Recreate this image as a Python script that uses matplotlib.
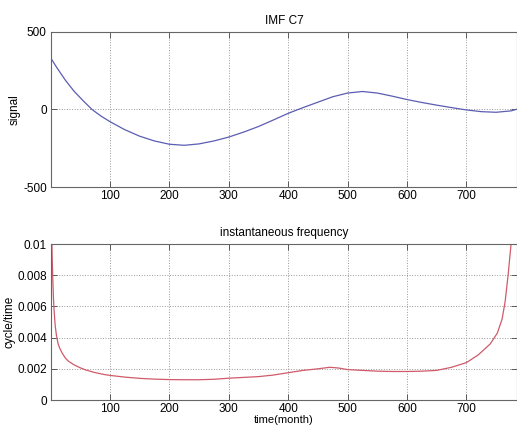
import numpy as np
import matplotlib.pyplot as plt

plt.rcParams['font.family'] = ['Liberation Sans', 'DejaVu Sans']
plt.rcParams['axes.unicode_minus'] = False

# IMF C7 component (month index vs amplitude)
imf_t = [1, 10, 25, 40, 55, 70, 85, 100, 125, 150, 175, 200, 225, 250, 275,
         300, 325, 350, 375, 400, 425, 450, 475, 500, 525, 550, 575, 600, 625,
         650, 675, 700, 725, 750, 775, 785]
imf_val = [330, 275, 190, 117, 57, 0, -42, -78, -130, -172, -203, -224, -231,
           -222, -203, -178, -146, -110, -68, -25, 12, 47, 82, 106, 116, 106,
           86, 64, 45, 28, 12, -3, -14, -18, -9, 2]

# instantaneous frequency of the same component
freq_t = [1, 2, 3, 4, 5, 6, 8, 10, 13, 16, 20, 25, 30, 40, 50, 60, 75, 90,
          100, 125, 150, 175, 200, 225, 250, 275, 300, 325, 350, 375, 400, 425,
          450, 470, 485, 500, 525, 550, 575, 600, 625, 650, 675, 700, 720, 740,
          752, 760, 765, 770, 775, 780]
freq_val = [0.0125, 0.011, 0.0092, 0.0078, 0.0067, 0.0059, 0.0048, 0.0042,
            0.0036, 0.0033, 0.003, 0.0027, 0.0025, 0.00225, 0.00207, 0.00192,
            0.00176, 0.00164, 0.00158, 0.00147, 0.00139, 0.00134, 0.00131,
            0.0013, 0.0013, 0.00133, 0.0014, 0.00145, 0.0015, 0.0016, 0.00175,
            0.0019, 0.002, 0.0021, 0.00205, 0.00195, 0.0019, 0.00185, 0.00183,
            0.00183, 0.00185, 0.0019, 0.0021, 0.0024, 0.0029, 0.0036, 0.0043,
            0.0052, 0.0063, 0.008, 0.01, 0.013]

x_ticks = [100, 200, 300, 400, 500, 600, 700]
freq_ticks = [0, 0.002, 0.004, 0.006, 0.008, 0.01]
freq_tick_labels = ['0', '0.002', '0.004', '0.006', '0.008', '0.01']

fig = plt.figure(figsize=(5.17, 4.26), dpi=100)
ax1 = fig.add_axes([0.0986, 0.561, 0.9014, 0.364])
ax2 = fig.add_axes([0.0986, 0.061, 0.9014, 0.366])


def style(ax):
    ax.tick_params(direction='in', top=True, right=True, length=4,
                   width=0.6, color='#444444', labelsize=8.5, pad=3)
    ax.tick_params(axis='x', pad=2)
    for s in ax.spines.values():
        s.set_color('#666666')
        s.set_linewidth(0.8)
    ax.grid(True, linestyle=':', color='#999999', linewidth=0.7)
    ax.set_axisbelow(True)


ax1.plot(imf_t, imf_val, color='#5c5cb4', linewidth=0.9)
ax1.set_xlim(1, 785)
ax1.set_ylim(-500, 500)
ax1.set_xticks(x_ticks)
ax1.set_yticks([-500, 0, 500])
ax1.set_ylabel('signal', fontsize=8.5)
ax1.yaxis.set_label_coords(-0.066, 0.5)
ax1.set_title('IMF C7', fontsize=8.5, pad=6)
style(ax1)

ax2.plot(freq_t, freq_val, color='#d05a6a', linewidth=0.9)
ax2.set_xlim(1, 785)
ax2.set_ylim(0, 0.01)
ax2.set_xticks(x_ticks)
ax2.set_yticks(freq_ticks)
ax2.set_yticklabels(freq_tick_labels)
ax2.set_ylabel('cycle/time', fontsize=8.5)
ax2.yaxis.set_label_coords(-0.076, 0.5)
ax2.set_xlabel('time(month)', fontsize=8)
ax2.xaxis.set_label_coords(0.5, -0.094)
ax2.set_title('instantaneous frequency', fontsize=8.5, pad=6)
style(ax2)

fig.savefig('out.png', dpi=100)
